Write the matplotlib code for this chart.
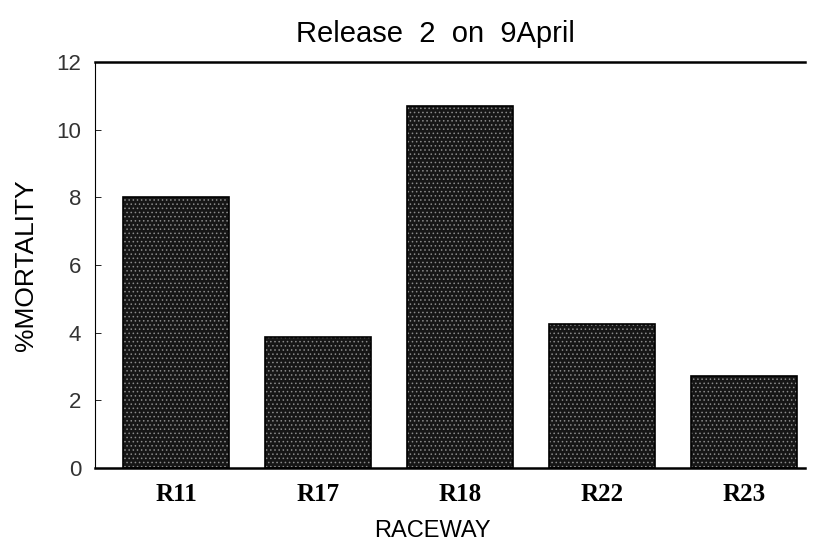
import numpy as np
import matplotlib
matplotlib.use("Agg")
import matplotlib.pyplot as plt

# values
raceways = ["R11", "R17", "R18", "R22", "R23"]
mortality = [8.0, 3.88, 10.7, 4.25, 2.72]
yticks = [0, 2, 4, 6, 8, 10, 12]

plt.rcParams['font.family'] = ['Liberation Sans', 'DejaVu Sans']
plt.rcParams['hatch.linewidth'] = 0.6

fig = plt.figure(figsize=(8.19, 5.48), dpi=100)
ax = fig.add_axes([0.116, 0.146, 0.867, 0.741])

x = np.arange(len(raceways))
# stippled fill: dark base with light dot hatch, then a black outline
ax.bar(x, mortality, width=0.75, color='#161616', edgecolor='#8a8a8a',
       hatch='....', linewidth=0, zorder=2)
ax.bar(x, mortality, width=0.75, color='none', edgecolor='black',
       linewidth=1.2, zorder=3)

ax.set_xlim(-0.57, 4.43)
ax.set_ylim(0, 12)
ax.set_yticks(yticks)
ax.set_yticklabels([str(t) for t in yticks], fontsize=16, color='#333333')
ax.tick_params(axis='y', direction='in', length=4, width=0.6, pad=10)
ax.set_xticks(x)
ax.set_xticklabels(raceways, fontsize=18, fontweight='bold',
                   family=['Liberation Serif', 'DejaVu Serif'])
ax.tick_params(axis='x', length=0, pad=11)

ax.spines['right'].set_visible(False)
ax.spines['top'].set_linewidth(1.8)
ax.spines['bottom'].set_linewidth(1.8)
ax.spines['left'].set_linewidth(0.8)

ax.set_ylabel("%MORTALITY", fontsize=19)
ax.yaxis.set_label_coords(-0.08, 0.5)
ax.set_xlabel("RACEWAY", fontsize=17)
ax.xaxis.set_label_coords(0.475, -0.128)
ax.set_title("Release  2  on  9April", fontsize=21, x=0.48, pad=14)

fig.savefig("out.png", dpi=100)
